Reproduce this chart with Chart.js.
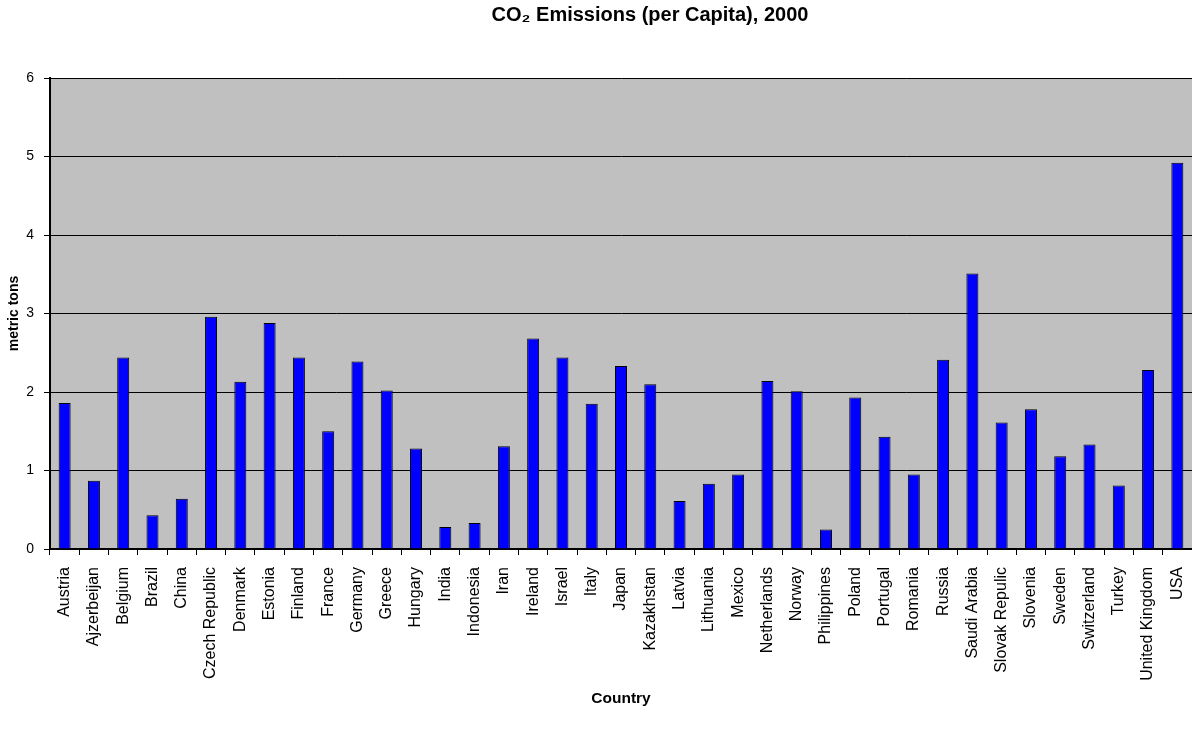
<!DOCTYPE html>
<html>
<head>
<meta charset="utf-8">
<script src="https://cdn.jsdelivr.net/npm/chart.js@4/dist/chart.umd.min.js"></script>
<style>
  body { margin: 0; background: #fff; }
  #wrap { width: 1192px; height: 735px; }
</style>
</head>
<body>
<div id="wrap"><canvas id="co2Chart" width="1192" height="735"></canvas></div>
<script>
const countries = [
  'Austria', 'Ajzerbeijan', 'Belgium', 'Brazil', 'China', 'Czech Republic', 'Denmark',
  'Estonia', 'Finland', 'France', 'Germany', 'Greece', 'Hungary', 'India', 'Indonesia',
  'Iran', 'Ireland', 'Israel', 'Italy', 'Japan', 'Kazakhstan', 'Latvia', 'Lithuania',
  'Mexico', 'Netherlands', 'Norway', 'Philippines', 'Poland', 'Portugal', 'Romania',
  'Russia', 'Saudi Arabia', 'Slovak Repulic', 'Slovenia', 'Sweden', 'Switzerland',
  'Turkey', 'United Kingdom', 'USA'
];

// metric tons per capita
const emissions = [
  1.86, 0.87, 2.44, 0.43, 0.64, 2.96, 2.13,
  2.88, 2.44, 1.50, 2.39, 2.02, 1.28, 0.28, 0.33,
  1.31, 2.68, 2.44, 1.85, 2.33, 2.10, 0.61, 0.83,
  0.95, 2.14, 2.01, 0.25, 1.93, 1.43, 0.95,
  2.41, 3.51, 1.61, 1.78, 1.18, 1.33,
  0.81, 2.28, 4.92
];

const yTicks = [0, 1, 2, 3, 4, 5, 6];

const chartTitle = 'CO\u2082 Emissions (per Capita), 2000';

const FONT = 'Arial, "Liberation Sans", Helvetica, sans-serif';

// grey plot area behind the bars
const plotBackground = {
  id: 'plotBackground',
  beforeDraw(chart) {
    const { ctx, chartArea: a } = chart;
    ctx.save();
    ctx.fillStyle = '#C0C0C0';
    ctx.fillRect(a.left, a.top, a.right - a.left, a.bottom - a.top);
    ctx.restore();
  }
};

// title sits a little right of the canvas centre, so draw it by hand
const topTitle = {
  id: 'topTitle',
  afterDraw(chart) {
    const { ctx } = chart;
    ctx.save();
    ctx.font = 'bold 20px ' + FONT;
    ctx.fillStyle = '#000';
    ctx.textAlign = 'center';
    ctx.textBaseline = 'middle';
    ctx.fillText(chartTitle, 650, 15);
    ctx.restore();
  }
};

const ctx = document.getElementById('co2Chart').getContext('2d');
const co2Chart = new Chart(ctx, {
  type: 'bar',
  data: {
    labels: countries,
    datasets: [{
      label: 'CO2 per capita',
      data: emissions,
      backgroundColor: '#0000FF',
      borderColor: '#000000',
      borderWidth: 1,
      borderSkipped: 'bottom',
      barPercentage: 0.41,
      categoryPercentage: 1.0
    }]
  },
  options: {
    responsive: false,
    animation: false,
    layout: { padding: { top: 78, left: 0, right: 0, bottom: 0 } },
    plugins: {
      legend: { display: false },
      tooltip: { enabled: false },
      title: { display: false }
    },
    scales: {
      x: {
        // fixed band under the plot; plot runs to the right edge
        afterFit: s => { s.height = 186; s.paddingLeft = 0; s.paddingRight = 0; },
        grid: {
          offset: true,
          drawOnChartArea: false,
          drawTicks: true,
          tickLength: 6,
          color: '#000'
        },
        border: { color: '#000', width: 2 },
        ticks: {
          autoSkip: false,
          minRotation: 90,
          maxRotation: 90,
          padding: 12,
          color: '#000',
          font: { family: FONT, size: 16 }
        },
        title: {
          display: true,
          text: 'Country',
          color: '#000',
          font: { family: FONT, size: 15.5, weight: 'bold' },
          padding: { top: 4, bottom: 26.7 }
        }
      },
      y: {
        min: 0,
        max: 6,
        afterFit: s => { s.width = 50; },
        afterBuildTicks: s => { s.ticks = yTicks.map(v => ({ value: v })); },
        grid: {
          color: '#000',
          lineWidth: 1,
          drawTicks: true,
          tickLength: 6
        },
        border: { color: '#000', width: 2 },
        ticks: {
          padding: 10,
          color: '#000',
          font: { family: FONT, size: 14 }
        },
        title: {
          display: true,
          text: 'metric tons',
          color: '#000',
          font: { family: FONT, size: 14, weight: 'bold' },
          padding: { top: 5.6, bottom: 4 }
        }
      }
    }
  },
  plugins: [plotBackground, topTitle]
});
</script>
</body>
</html>
